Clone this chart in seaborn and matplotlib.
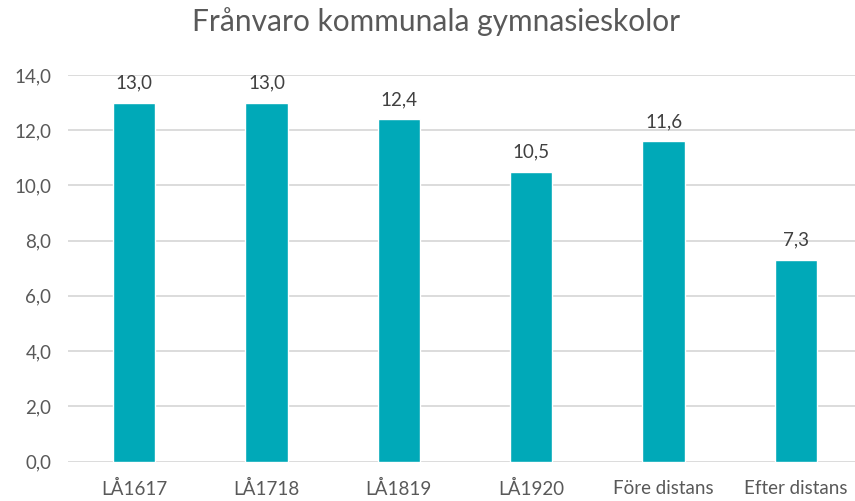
import matplotlib
matplotlib.use("Agg")
import matplotlib.pyplot as plt
import seaborn as sns
import pandas as pd

categories = ["LÅ1617", "LÅ1718", "LÅ1819", "LÅ1920", "Före distans", "Efter distans"]
values = [13.0, 13.0, 12.4, 10.5, 11.6, 7.3]
yticks = [0, 2, 4, 6, 8, 10, 12, 14]
title = "Frånvaro kommunala gymnasieskolor"

sns.set_theme(style="white")
plt.rcParams['font.family'] = ['Lato', 'DejaVu Sans']

df = pd.DataFrame({"cat": categories, "val": values})
fig = plt.figure(figsize=(8.55, 5.01), dpi=100)
ax = fig.add_axes([68/855, 1-461.5/501, (862-68)/855, (461.5-75)/501])

sns.barplot(data=df, x="cat", y="val", color="#00A9B8", width=0.32, saturation=1, ax=ax, zorder=3)

ax.set_ylim(0, 14)
ax.set_yticks(yticks)
ax.set_yticklabels([f"{t:.1f}".replace(".", ",") for t in yticks])
ax.grid(axis="y", color="#D9D9D9", linewidth=1.3, zorder=0)
ax.set_axisbelow(True)
for s in ax.spines.values():
    s.set_visible(False)
ax.set_xlabel("")
ax.set_ylabel("")
ax.tick_params(axis="both", length=0, labelsize=13.5, colors="#595959")
ax.tick_params(axis="x", pad=13)
ax.tick_params(axis="y", pad=12)

for c in ax.containers:
    ax.bar_label(c, labels=[f"{v:.1f}".replace(".", ",") for v in values],
                 padding=8, fontsize=13.5, color="#404040")

fig.text(436/855, 1-22/501, title, ha="center", va="center", fontsize=21.5, color="#595959")
fig.savefig("out.png", dpi=100)
